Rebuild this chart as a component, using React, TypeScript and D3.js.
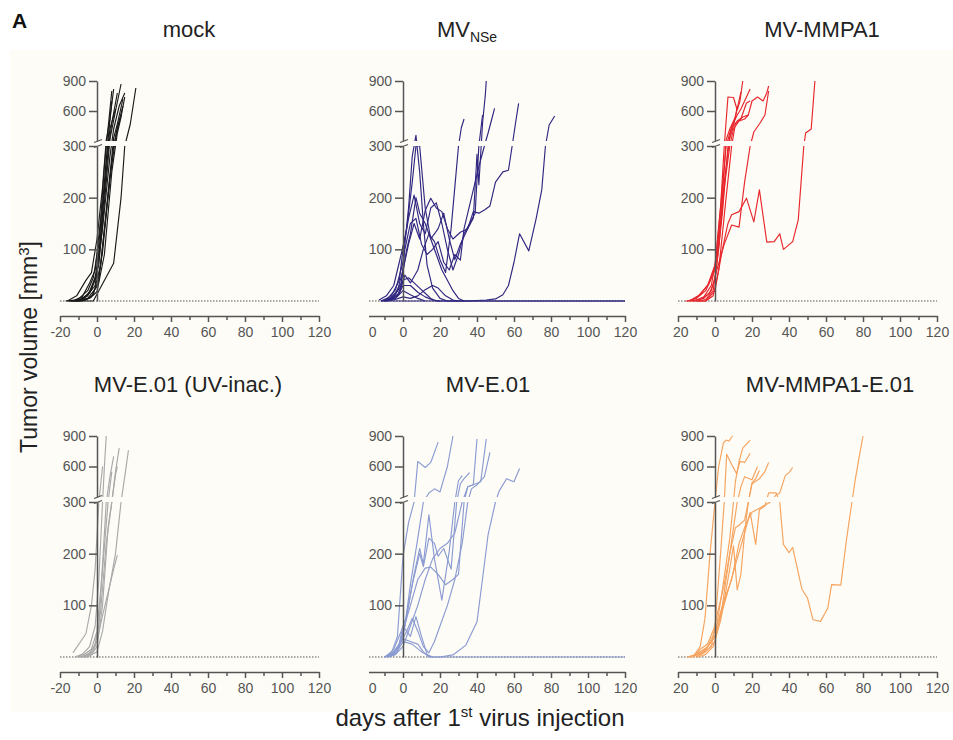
import React, { useEffect, useRef } from 'react';
import * as d3 from 'd3';

type Pt = [number, number];

// ---- data (days after 1st virus injection, tumor volume mm3) ----
const titles = ['mock', 'MV', 'MV-MMPA1', 'MV-E.01 (UV-inac.)', 'MV-E.01', 'MV-MMPA1-E.01'];
const subtitles = ['', 'NSe', '', '', '', ''];
const colors = ['#1a1a1a', '#2f2680', '#e8262c', '#a9a9a9', '#8b9bd2', '#f6a35e'];

const xTicks = [-20, 0, 20, 40, 60, 80, 100, 120];
const xMinorTicks = [-10, 10, 30, 50, 70, 90, 110];
const yTicksLow = [100, 200, 300];
const yTicksHigh = [600, 900];

const mockLines: Pt[][] = [
  [[-17, 0], [-12, 2], [-8, 8], [-4, 35], [-1, 60], [2, 160], [4, 260], [6, 430], [8, 800]],
  [[-14, 0], [-10, 4], [-5, 20], [-2, 45], [1, 110], [4, 230], [6, 320], [8, 700]],
  [[-16, 0], [-11, 10], [-6, 40], [-3, 55], [0, 120], [3, 220], [5, 310], [7, 520], [9, 820]],
  [[-13, 0], [-9, 3], [-4, 15], [0, 50], [3, 170], [6, 290], [8, 480], [11, 780]],
  [[-12, 0], [-7, 6], [-3, 22], [1, 70], [4, 190], [7, 320], [10, 600], [13, 870]],
  [[-15, 0], [-10, 0], [-5, 12], [-1, 30], [3, 140], [7, 280], [9, 420], [12, 650], [15, 780]],
  [[-11, 0], [-6, 2], [-2, 12], [2, 70], [6, 210], [9, 330], [11, 470], [14, 720]],
  [[-10, 0], [-5, 5], [0, 28], [3, 95], [7, 240], [10, 320], [12, 500], [14, 650]],
  [[-16, 0], [-8, 0], [-2, 0], [9, 73], [13, 200], [15, 300], [18, 470], [21, 830]],
  [[-9, 0], [-5, 10], [-1, 45], [2, 120], [5, 270], [7, 420], [10, 620]],
  [[-12, 0], [-8, 0], [-3, 8], [1, 40], [5, 170], [9, 300], [11, 440], [13, 560]],
  [[-14, 0], [-9, 2], [-4, 5], [0, 18], [4, 90], [8, 250], [11, 380], [13, 540], [15, 740]],
];

const nseLines: Pt[][] = [
  [[-12, 0], [-8, 6], [-4, 22], [0, 75], [3, 180], [5, 280], [7, 356], [9, 250], [11, 150], [13, 70], [16, 25], [20, 5], [24, 0], [120, 0]],
  [[-13, 2], [-9, 10], [-5, 30], [-1, 90], [2, 140], [5, 230], [7, 300], [9, 300], [12, 180], [15, 120], [19, 140], [22, 170], [25, 120], [28, 80], [31, 110], [35, 140], [38, 160], [40, 284], [41, 225], [43, 480], [44.5, 760], [45, 900]],
  [[-10, 0], [-6, 12], [-2, 40], [0, 100], [3, 160], [6, 205], [9, 150], [12, 130], [15, 180], [18, 190], [21, 150], [24, 100], [27, 60], [30, 90], [33, 130], [36, 150], [39, 170], [41, 300], [43, 560]],
  [[-11, 0], [-7, 5], [-3, 20], [0, 60], [3, 110], [6, 150], [9, 120], [12, 175], [15, 199], [18, 180], [21, 173], [24, 140], [27, 120], [31, 133], [35, 140], [38, 173], [41, 170], [44, 176], [47, 184], [50, 230], [54, 250], [57, 253], [59, 300], [61, 500], [62.5, 676]],
  [[-9, 0], [-5, 8], [-1, 30], [1, 100], [4, 150], [7, 160], [10, 110], [13, 90], [16, 100], [19, 115], [22, 75], [25, 60], [28, 90], [31, 79], [33, 140], [37, 200], [41, 260], [44, 300], [46, 380], [48, 520], [49.5, 626]],
  [[-10, 0], [-6, 3], [-2, 15], [1, 50], [4, 35], [8, 60], [11, 100], [14, 130], [17, 115], [20, 80], [23, 55], [26, 140], [28, 220], [30, 300], [31.5, 430], [33, 520]],
  [[-12, 0], [-7, 2], [-3, 10], [0, 40], [3, 45], [6, 35], [9, 25], [12, 15], [15, 5], [18, 0], [120, 0]],
  [[-10, 0], [-6, 5], [-2, 15], [0, 30], [4, 30], [8, 17], [12, 8], [16, 2], [20, 0]],
  [[-8, 0], [-4, 5], [0, 20], [4, 12], [8, 5], [12, 0]],
  [[-10, 0], [-5, 2], [0, 8], [4, 5], [8, 10], [12, 22], [16, 30], [19, 25], [23, 10], [27, 2], [30, 0]],
  [[-12, 0], [-6, 0], [0, 0], [20, 0], [35, 0], [45, 2], [50, 4], [54, 12], [57, 30], [60, 75], [63, 130], [68, 97], [72, 160], [75, 215], [77, 300], [79, 460], [82, 550]],
  [[-9, 0], [-5, 10], [-1, 35], [2, 100], [4, 130], [7, 200], [9, 170], [12, 150], [15, 120], [18, 90], [21, 60], [24, 40], [27, 20], [30, 5], [33, 0]],
];

const mmpaLines: Pt[][] = [
  [[-15, 0], [-10, 5], [-5, 20], [0, 60], [3, 180], [5, 300], [7, 740], [10, 735], [12, 610], [13.5, 700], [15, 900]],
  [[-14, 0], [-9, 10], [-4, 30], [0, 70], [4, 220], [6, 300], [9, 440], [12, 560], [14, 620], [16, 700], [19, 820]],
  [[-12, 0], [-7, 5], [-3, 15], [0, 40], [4, 170], [7, 300], [9, 430], [12, 500], [15, 540], [18, 560], [20, 700], [23, 740], [26, 700], [28, 780], [29, 850]],
  [[-10, 0], [-5, 0], [-1, 10], [2, 60], [6, 200], [9, 300], [11, 470], [14, 520], [17, 680], [19, 700]],
  [[-13, 0], [-8, 12], [-3, 35], [1, 80], [5, 220], [8, 300], [10, 420], [13, 500], [16, 520], [18, 560]],
  [[-16, 0], [-10, 0], [-5, 0], [0, 20], [4, 100], [7, 150], [9, 167], [13, 173], [17, 199], [21, 153], [24, 215], [28, 114], [32, 115], [35, 130], [37, 100], [42, 115], [45, 157], [48, 300], [49, 380], [52, 420], [54, 900]],
  [[-12, 0], [-6, 5], [-2, 20], [1, 60], [5, 110], [9, 147], [13, 143], [16, 230], [19, 300], [21, 390], [24, 470], [27, 560], [29, 800]],
  [[-11, 0], [-6, 8], [-2, 30], [1, 90], [4, 200], [6, 310], [8, 420], [11, 540], [14, 790]],
  [[-9, 0], [-5, 3], [-1, 20], [2, 100], [5, 230], [8, 330], [10, 450], [12, 640]],
];

const uvLines: Pt[][] = [
  [[-12, 0], [-8, 5], [-4, 20], [-1, 60], [1, 150], [3, 300], [4, 600], [5, 900]],
  [[-10, 0], [-6, 3], [-2, 10], [1, 60], [3, 180], [5, 300], [7, 500], [9, 700]],
  [[-11, 0], [-7, 5], [-3, 15], [0, 50], [3, 170], [6, 300], [8, 550]],
  [[-9, 0], [-5, 2], [-1, 20], [2, 90], [5, 220], [8, 300], [10, 550], [12, 780]],
  [[-8, 0], [-4, 8], [0, 30], [3, 80], [7, 140], [9, 170], [11, 197]],
  [[-10, 0], [-5, 0], [0, 10], [3, 50], [6, 120], [10, 200], [13, 300], [15, 500], [17, 760]],
  [[-13, 8], [-6, 45], [-3, 100], [-1, 170], [1, 300], [3, 600]],
  [[-7, 0], [-3, 5], [0, 20], [3, 100], [6, 250], [8, 300], [10, 520], [11, 600]],
];

const e01Lines: Pt[][] = [
  [[-10, 0], [-6, 10], [-3, 40], [0, 195], [3, 260], [6, 300], [8, 650], [12, 590], [15, 640], [19, 840]],
  [[-10, 0], [-6, 5], [-2, 20], [1, 60], [4, 140], [8, 230], [11, 300], [14, 340], [17, 380], [20, 350], [24, 600], [27, 900]],
  [[-8, 0], [-4, 10], [0, 40], [3, 100], [6, 160], [9, 210], [11, 180], [14, 275], [17, 190], [21, 110], [25, 205], [28, 300], [30, 460], [32, 510]],
  [[-9, 0], [-5, 15], [-1, 50], [2, 80], [5, 140], [9, 200], [11, 175], [14, 230], [17, 220], [19, 195], [22, 210], [26, 170], [29, 300], [31, 430], [33, 480], [36, 540]],
  [[-10, 0], [-6, 5], [-2, 25], [0, 50], [4, 100], [8, 150], [12, 172], [15, 174], [19, 160], [23, 140], [27, 150], [30, 160], [33, 300], [35, 400], [38, 420], [40, 870]],
  [[-8, 0], [-4, 5], [0, 20], [4, 60], [8, 100], [12, 150], [16, 190], [20, 210], [24, 220], [28, 240], [32, 300], [35, 400], [38, 420], [42, 450], [45, 870]],
  [[-9, 0], [-5, 10], [-1, 30], [2, 50], [5, 75], [8, 50], [11, 20], [14, 8], [17, 30], [20, 60], [24, 100], [28, 150], [32, 220], [35, 300], [37, 380], [40, 420], [44, 500], [47, 740]],
  [[-8, 0], [-4, 5], [0, 30], [5, 25], [10, 10], [15, 0], [20, 0], [27, 4], [34, 23], [40, 68], [44, 180], [46, 237], [50, 300], [52, 360], [56, 480], [60, 450], [63, 580]],
  [[-10, 0], [-5, 5], [0, 35], [4, 30], [8, 25], [11, 10], [14, 0], [120, 0]],
  [[-7, 0], [-3, 10], [0, 60], [4, 40], [7, 78], [10, 40], [13, 5], [16, 0]],
];

const comboLines: Pt[][] = [
  [[-15, 0], [-10, 5], [-5, 15], [0, 40], [4, 90], [8, 140], [12, 190], [16, 240], [19, 280], [22, 218], [24, 285], [27, 292], [29, 340], [33, 340], [35, 300], [37, 218], [40, 202], [42, 212], [47, 131], [50, 114], [53, 72], [57, 69], [61, 95], [63, 140], [68, 139], [71, 225], [74, 300], [76, 490], [78, 700], [80, 900]],
  [[-12, 0], [-8, 10], [-4, 20], [0, 50], [5, 110], [9, 150], [13, 220], [17, 260], [20, 280], [25, 290], [30, 300], [33, 320], [35, 340], [38, 510], [40, 540], [42, 590]],
  [[-15, 0], [-12, 0], [-8, 20], [-5.4, 75], [-2.7, 200], [0, 300], [2, 600], [4.5, 830], [6, 860], [7.5, 850], [9.5, 900]],
  [[-12, 0], [-8, 15], [-4, 25], [0, 60], [3, 200], [5, 300], [6.3, 720], [9, 620], [11.7, 530], [13.5, 650], [16, 640], [19, 730]],
  [[-12, 0], [-6, 10], [0, 40], [4, 130], [8, 230], [10, 300], [11, 450], [13, 650], [15, 780], [19, 860]],
  [[-10, 0], [-5, 10], [0, 30], [4, 100], [8, 200], [10, 250], [12, 300], [14, 400], [16, 500], [20, 470], [23, 600]],
  [[-9, 0], [-5, 5], [-1, 20], [3, 70], [7, 150], [10, 215], [12, 130], [14, 160], [16, 240], [18, 300], [20, 430], [24, 480], [27, 550], [29, 640]],
  [[-10, 0], [-6, 10], [-2, 20], [1, 80], [5, 140], [8, 200], [11, 250], [13, 255], [16, 265], [18, 300], [20, 440], [22, 480], [24, 560]],
];

const panelLines = [mockLines, nseLines, mmpaLines, uvLines, e01Lines, comboLines];

// ---- layout ----
const BG = '#fdfcf6';
const FONT = "'Liberation Sans', Arial, sans-serif";
const cols = [
  { zero: 97, clip: 0 },
  { zero: 403, clip: 369 },
  { zero: 715, clip: 673 },
];
const rows = [
  { zero: 301, top: 146, breakTop: 141, max: 81, axis: 316, title: 37 },
  { zero: 657, top: 502, breakTop: 497, max: 436, axis: 672, title: 392 },
];
const titleX = [189, 467, 822, 188, 488, 830];

export default function App() {
  const svgRef = useRef<SVGSVGElement>(null);

  useEffect(() => {
    const svg = d3.select(svgRef.current);
    svg.selectAll('*').remove();

    svg.append('rect')
      .attr('x', 10).attr('y', 50)
      .attr('width', 943).attr('height', 662)
      .attr('fill', BG);

    panelLines.forEach((lines, i) => {
      const col = cols[i % 3];
      const row = rows[Math.floor(i / 3)];
      const x = d3.scaleLinear().domain([-20, 120]).range([col.zero - 37, col.zero + 222]);
      const yLo = d3.scaleLinear().domain([0, 300]).range([row.zero, row.top]);
      const yHi = d3.scaleLinear().domain([300, 900]).range([row.breakTop, row.max]);
      const y = (v: number) => (v <= 300 ? yLo(v) : yHi(v));

      const g = svg.append('g');

      // dotted zero line
      g.append('line')
        .attr('x1', Math.max(x(-20), col.clip)).attr('x2', x(120))
        .attr('y1', y(0)).attr('y2', y(0))
        .attr('stroke', '#555')
        .attr('stroke-width', 1)
        .attr('stroke-dasharray', '1.5,1.5');

      const line = d3.line<Pt>().x(d => x(d[0])).y(d => y(d[1]));
      g.selectAll('path.mouse')
        .data(lines)
        .join('path')
        .attr('class', 'mouse')
        .attr('d', d => line(d))
        .attr('fill', 'none')
        .attr('stroke', colors[i])
        .attr('stroke-width', 1.15)
        .attr('stroke-linejoin', 'round');

      // axis break gap
      g.append('rect')
        .attr('x', x(-20) - 2).attr('y', row.breakTop)
        .attr('width', x(120) - x(-20) + 4)
        .attr('height', row.top - row.breakTop)
        .attr('fill', BG);

      const styleAxis = (a: d3.Selection<SVGGElement, unknown, null, undefined>) => {
        a.selectAll('path, line').attr('stroke', '#555').attr('stroke-width', 1.5);
        a.selectAll('text').attr('fill', '#555').attr('font-size', 14).attr('font-family', FONT);
      };

      const yLowAxis = g.append('g')
        .attr('transform', `translate(${x(0)},0)`)
        .call(d3.axisLeft(yLo).tickValues(yTicksLow).tickSize(8).tickSizeOuter(0).tickPadding(3).tickFormat(d => String(d)));
      styleAxis(yLowAxis);
      const yHighAxis = g.append('g')
        .attr('transform', `translate(${x(0)},0)`)
        .call(d3.axisLeft(yHi).tickValues(yTicksHigh).tickSize(8).tickSizeOuter(0).tickPadding(3).tickFormat(d => String(d)));
      styleAxis(yHighAxis);

      // break marks
      [row.breakTop, row.top].forEach(yy => {
        g.append('line')
          .attr('x1', x(0) - 3).attr('x2', x(0) + 5)
          .attr('y1', yy + 1.5).attr('y2', yy - 1.5)
          .attr('stroke', '#555').attr('stroke-width', 1.3);
      });

      // x axis, cropped on the left like the source figure
      const xg = svg.append('g');
      if (col.clip) {
        const id = `clip${i}`;
        svg.append('clipPath').attr('id', id)
          .append('rect')
          .attr('x', col.clip).attr('y', row.axis - 10)
          .attr('width', 953 - col.clip).attr('height', 40);
        xg.attr('clip-path', `url(#${id})`);
      }
      const xAxis = xg.append('g')
        .attr('transform', `translate(0,${row.axis})`)
        .call(d3.axisBottom(x).tickValues(xTicks).tickSize(6).tickSizeOuter(0).tickPadding(5).tickFormat(d => String(d)));
      styleAxis(xAxis);
      const xMinor = xg.append('g')
        .attr('transform', `translate(0,${row.axis})`)
        .call(d3.axisBottom(x).tickValues(xMinorTicks).tickSize(4).tickFormat(() => ''));
      xMinor.select('.domain').remove();
      styleAxis(xMinor);

      // title
      const t = svg.append('text')
        .attr('x', titleX[i]).attr('y', row.title)
        .attr('text-anchor', 'middle')
        .attr('font-family', FONT).attr('font-size', 22).attr('fill', '#222');
      t.append('tspan').text(titles[i]);
      if (subtitles[i]) {
        t.append('tspan').attr('font-size', 14).attr('dy', 5).text(subtitles[i]);
      }
    });

    svg.append('text')
      .attr('x', 12).attr('y', 28)
      .attr('font-family', FONT).attr('font-size', 21).attr('font-weight', 'bold').attr('fill', '#111')
      .text('A');

    const yl = svg.append('text')
      .attr('transform', 'translate(37,347) rotate(-90)')
      .attr('text-anchor', 'middle')
      .attr('font-family', FONT).attr('font-size', 23).attr('fill', '#222');
    yl.append('tspan').text('Tumor volume [mm');
    yl.append('tspan').attr('font-size', 15).attr('dy', -8).text('3');
    yl.append('tspan').attr('dy', 8).text(']');

    const xl = svg.append('text')
      .attr('x', 480).attr('y', 726)
      .attr('text-anchor', 'middle')
      .attr('font-family', FONT).attr('font-size', 24).attr('fill', '#222');
    xl.append('tspan').text('days after 1');
    xl.append('tspan').attr('font-size', 15).attr('dy', -9).text('st');
    xl.append('tspan').attr('dy', 9).text(' virus injection');
  }, []);

  return (
    <svg
      ref={svgRef}
      width={953}
      height={740}
      style={{ position: 'absolute', left: 0, top: 0, background: '#fff' }}
    />
  );
}
